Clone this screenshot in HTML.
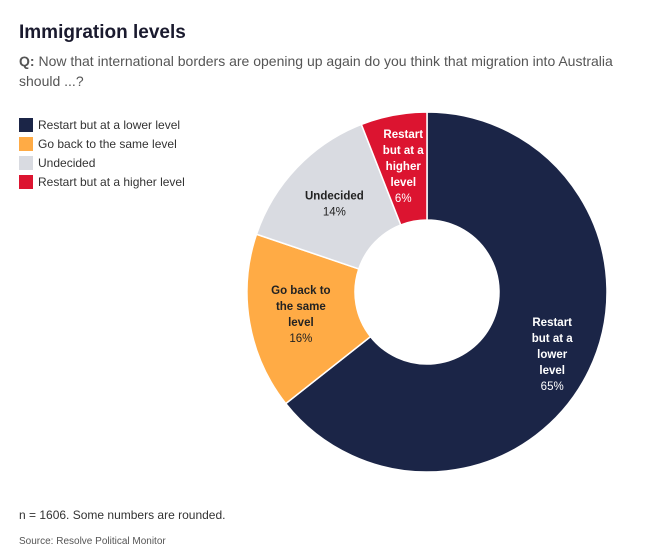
<!DOCTYPE html>
<html><head><meta charset="utf-8">
<style>
body{margin:0;background:#fff;font-family:"Liberation Sans",sans-serif;width:657px;height:552px;overflow:hidden;position:relative}
.title{position:absolute;left:19px;top:22px;font-size:19px;font-weight:bold;color:#1a1a2e}
.q{position:absolute;left:19px;top:51px;width:625px;font-size:14px;line-height:20px;color:#555}
.leg{position:absolute;left:19px;font-size:12px;color:#333;height:14px;line-height:14px}
.leg span{display:inline-block;width:14px;height:14px;vertical-align:top;margin-right:5px}
.note{position:absolute;left:19px;top:508px;font-size:12px;color:#333}
.src{position:absolute;left:19px;top:536px;font-size:10px;color:#555}
</style></head><body>
<div class="title">Immigration levels</div>
<div class="q"><b>Q:</b> Now that international borders are opening up again do you think that migration into Australia should ...?</div>
<div class="leg" style="top:118px"><span style="background:#1b2547"></span>Restart but at a lower level</div>
<div class="leg" style="top:137px"><span style="background:#ffab45"></span>Go back to the same level</div>
<div class="leg" style="top:156px"><span style="background:#d9dbe1"></span>Undecided</div>
<div class="leg" style="top:175px"><span style="background:#dc1430"></span>Restart but at a higher level</div>
<svg id="chart" width="657" height="552" style="position:absolute;left:0;top:0"></svg>
<div class="note">n = 1606. Some numbers are rounded.</div>
<div class="src">Source: Resolve Political Monitor</div>
<script>
const categories=["Restart but at a lower level","Go back to the same level","Undecided","Restart but at a higher level"];
const labels=[["Restart","but at a","lower","level"],["Go back to","the same","level"],["Undecided"],["Restart","but at a","higher","level"]];
const values=[65,16,14,6];
const colors=["#1b2547","#ffab45","#d9dbe1","#dc1430"];
const textColors=["#fff","#222","#222","#fff"];
const pctColors=["#fff","#222","#222","#fff"];
const cx=427,cy=292,R=180,r0=72;
const svg=document.getElementById('chart');
const NS="http://www.w3.org/2000/svg";
const total=values.reduce((a,b)=>a+b,0);
function pt(a,rad){return [cx+rad*Math.sin(a),cy-rad*Math.cos(a)];}
let acc=0;
values.forEach((v,i)=>{
  const a0=acc/total*2*Math.PI; acc+=v; const a1=acc/total*2*Math.PI;
  const large=(a1-a0)>Math.PI?1:0;
  const p0=pt(a0,R),p1=pt(a1,R),q1=pt(a1,r0),q0=pt(a0,r0);
  const path=document.createElementNS(NS,'path');
  path.setAttribute('d',`M${p0[0]},${p0[1]}A${R},${R} 0 ${large} 1 ${p1[0]},${p1[1]}L${q1[0]},${q1[1]}A${r0},${r0} 0 ${large} 0 ${q0[0]},${q0[1]}Z`);
  path.setAttribute('fill',colors[i]);path.setAttribute('stroke','#fff');path.setAttribute('stroke-width','1.5');
  
  
  svg.appendChild(path);
  const am=(a0+a1)/2; const c=pt(am,128);
  const lines=labels[i].concat([v+'%']);
  const lh=16, y0=c[1]-(lines.length-1)*lh/2+4;
  lines.forEach((t,j)=>{
    const tx=document.createElementNS(NS,'text');
    tx.setAttribute('x',c[0]+(i==0?10:0));tx.setAttribute('y',y0+j*lh+(i==0?6:0));
    tx.setAttribute('text-anchor','middle');tx.setAttribute('font-size','11.5');
    tx.setAttribute('font-family','Liberation Sans, sans-serif');
    const last=j==lines.length-1;
    tx.setAttribute('font-weight',last?'normal':'bold');
    tx.setAttribute('fill',last?pctColors[i]:textColors[i]);
    
    
    tx.textContent=t;svg.appendChild(tx);
  });
});
</script>
</body></html>
